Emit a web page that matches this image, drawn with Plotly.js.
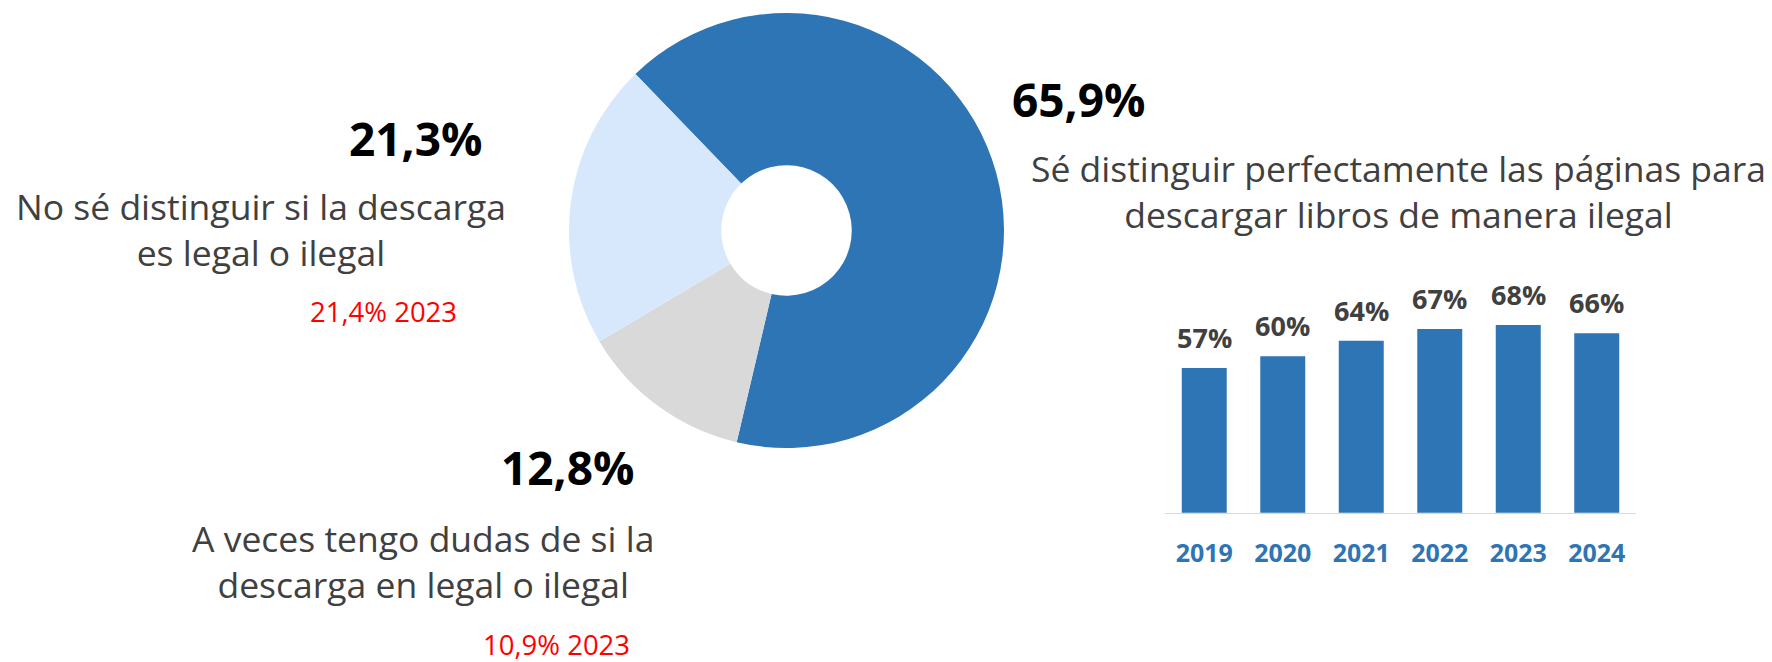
<!DOCTYPE html>
<html>
<head>
<meta charset="utf-8">
<script src="https://cdn.plot.ly/plotly-3.0.1.min.js"></script>
<style>
  html, body { margin: 0; padding: 0; background: #ffffff; }
  #chart { width: 1772px; height: 662px; }
</style>
</head>
<body>
<div id="chart"></div>
<script>
// ---- Data ----
const pieLabels = [
  "Sé distinguir perfectamente las páginas para<br>descargar libros de manera ilegal",
  "A veces tengo dudas de si la<br>descarga en legal o ilegal",
  "No sé distinguir si la descarga<br>es legal o ilegal"
];
const pieValues = [65.9, 12.8, 21.3];
const pieColors = ["#2E75B6", "#D9D9D9", "#D7E7FC"];
const prevYearValues = [null, 10.9, 21.4];
const prevYearLabel = "2023";

const years = ["2019", "2020", "2021", "2022", "2023", "2024"];
const yearValues = [57, 60, 64, 67, 68, 65.9];
const yearLabels = ["57%", "60%", "64%", "67%", "68%", "66%"];

// ---- Helpers ----
const W = 1772, H = 662;
const px = x => x / W;
const py = y => 1 - y / H;
const fmt = v => v.toFixed(1).replace('.', ',') + '%';

// Label layout (pixel positions of text blocks)
const bigPos = [[1078, 99], [567, 467], [415.5, 138]];
const descPos = [[1398, 191], [423, 561], [261, 229]];
const prevPos = [null, [556.5, 644], [383, 311]];

const annotations = [];
pieValues.forEach((v, i) => {
  annotations.push({
    xref: 'paper', yref: 'paper', x: px(bigPos[i][0]), y: py(bigPos[i][1]),
    xanchor: 'center', yanchor: 'middle', showarrow: false,
    text: fmt(v),
    font: { family: 'Open Sans', size: 46, color: '#000000', weight: 'bold' }
  });
  annotations.push({
    xref: 'paper', yref: 'paper', x: px(descPos[i][0]), y: py(descPos[i][1]),
    xanchor: 'center', yanchor: 'middle', align: 'center', showarrow: false,
    text: pieLabels[i],
    font: { family: 'Open Sans', size: 35.5, color: '#404040' }
  });
  if (prevYearValues[i] !== null) {
    annotations.push({
      xref: 'paper', yref: 'paper', x: px(prevPos[i][0]), y: py(prevPos[i][1]),
      xanchor: 'center', yanchor: 'middle', showarrow: false,
      text: fmt(prevYearValues[i]) + ' ' + prevYearLabel,
      font: { family: 'Open Sans', size: 27.5, color: '#FF0000' }
    });
  }
});
years.forEach((yr, i) => {
  annotations.push({
    xref: 'x', yref: 'y', x: i, y: yearValues[i],
    xanchor: 'center', yanchor: 'bottom', yshift: 10, showarrow: false,
    text: yearLabels[i],
    font: { family: 'Open Sans', size: 27, color: '#404040', weight: 'bold' }
  });
});

const traces = [
  {
    type: 'pie',
    labels: pieLabels,
    values: pieValues,
    marker: { colors: pieColors, line: { width: 0 } },
    hole: 0.3,
    sort: false,
    direction: 'clockwise',
    rotation: -44,
    textinfo: 'none',
    hoverinfo: 'none',
    showlegend: false,
    domain: { x: [px(569), px(1004)], y: [py(448), py(13)] }
  },
  {
    type: 'bar',
    x: years,
    y: yearValues,
    marker: { color: '#2E75B6' },
    hoverinfo: 'none',
    showlegend: false
  }
];

const layout = {
  width: W, height: H,
  margin: { l: 0, r: 0, t: 0, b: 0, pad: 0 },
  paper_bgcolor: '#ffffff',
  plot_bgcolor: 'rgba(0,0,0,0)',
  showlegend: false,
  bargap: 0.427,
  font: { family: 'Open Sans' },
  xaxis: {
    type: 'category',
    range: [-0.5, years.length - 0.5],
    autorange: false,
    domain: [px(1165), px(1636)],
    showline: true, linecolor: '#D9D9D9', linewidth: 1.5,
    showgrid: false, zeroline: false, ticks: '',
    ticklabelstandoff: 18,
    tickfont: { family: 'Open Sans', size: 25, color: '#2E75B6', weight: 'bold' },
    fixedrange: true
  },
  yaxis: {
    domain: [py(512.7), py(278.2)],
    range: [20, 80],
    autorange: false,
    visible: false,
    showgrid: false, zeroline: false,
    fixedrange: true
  },
  annotations: annotations
};

Plotly.newPlot('chart', traces, layout, { staticPlot: true, displayModeBar: false });
</script>
</body>
</html>
